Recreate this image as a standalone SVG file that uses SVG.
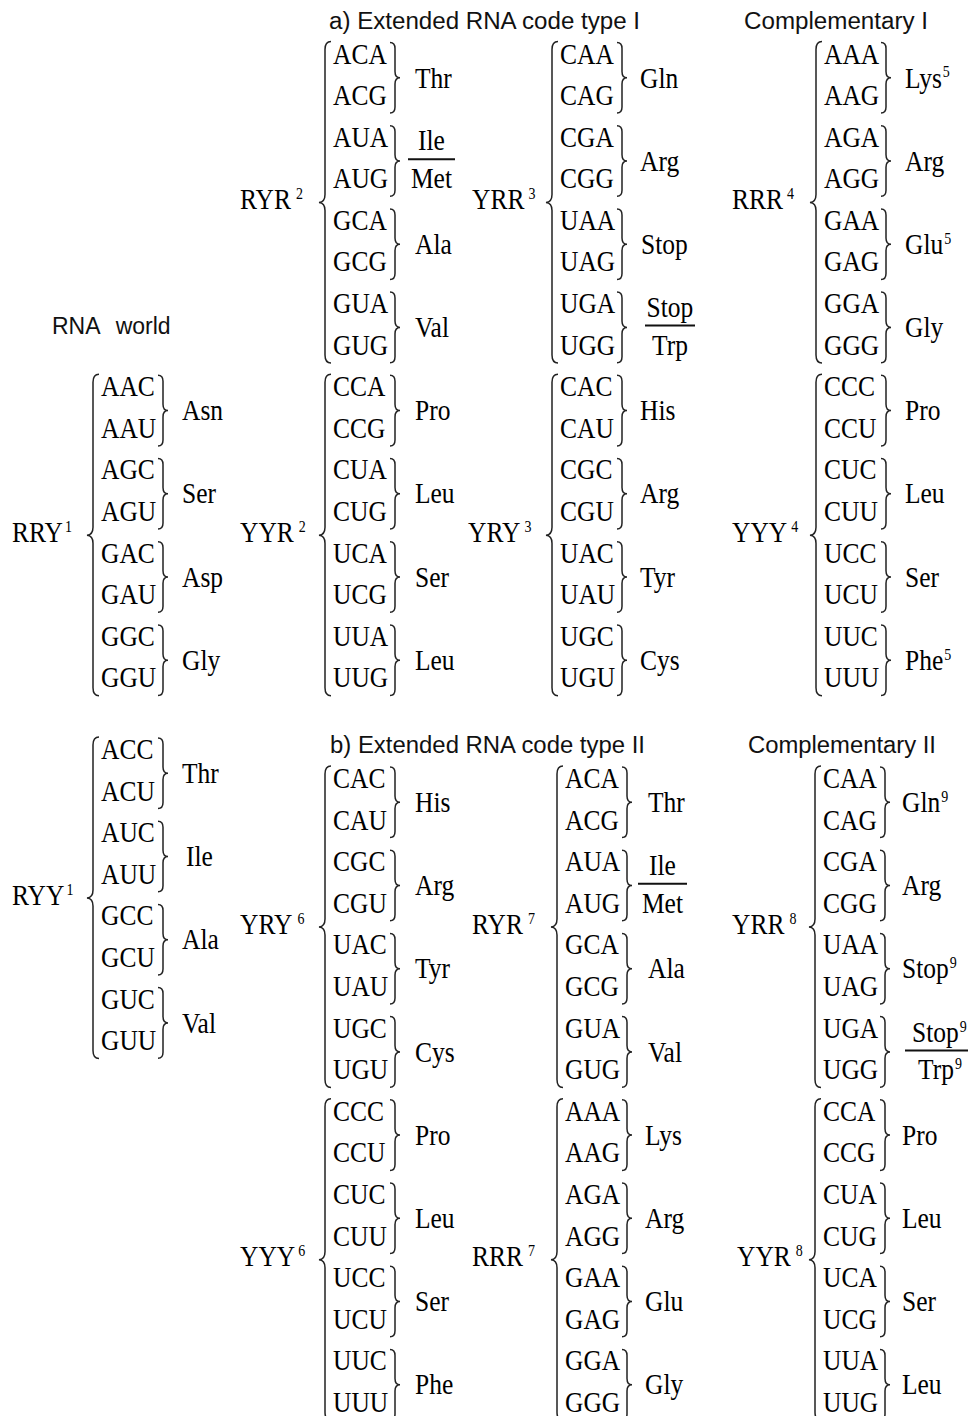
<svg xmlns="http://www.w3.org/2000/svg" xmlns:xlink="http://www.w3.org/1999/xlink" width="968" height="1416" viewBox="0 0 968 1416">
<style>
.s{font-family:"Liberation Serif","Times New Roman",serif;font-size:25.5px;fill:#000}
.h{font-family:"Liberation Sans",Arial,sans-serif;font-size:23px;fill:#111}
.sp{font-size:14px}
.br{fill:none;stroke:#222;stroke-width:1.5}
.fr{stroke:#111;stroke-width:2}
.m{text-anchor:middle}
</style>
<defs>
<path id="big" class="br" d="M6,-22 Q0,-22 0,-14 L0,131 Q0,138.5 -6,139 Q0,139.5 0,147 L0,291.5 Q0,299.5 6,299.5"/>
<path id="pb" class="br" d="M0,-21 Q5,-21 5,-15 L5,8 Q5,14.3 10,14.3 Q5,14.3 5,20.6 L5,43.6 Q5,49.6 0,49.6"/>
</defs>
<rect width="968" height="1416" fill="#fff"/>
<g id="headers">
<text class="h" x="329" y="28.5" textLength="311" lengthAdjust="spacingAndGlyphs">a) Extended RNA code type I</text>
<text class="h" x="744" y="29" textLength="184" lengthAdjust="spacingAndGlyphs">Complementary I</text>
<text class="h" x="52" y="334" word-spacing="10">RNA world</text>
<text class="h" x="330" y="753" textLength="315" lengthAdjust="spacingAndGlyphs">b) Extended RNA code type II</text>
<text class="h" x="748" y="753" textLength="188" lengthAdjust="spacingAndGlyphs">Complementary II</text>
</g>

<g id="RYR2" transform="translate(333,63.5)">
<use href="#big" x="-8"/><use href="#pb" x="57" y="0"/><use href="#pb" x="57" y="83.2"/><use href="#pb" x="57" y="166.4"/><use href="#pb" x="57" y="249.6"/>
<line class="fr" x1="75" y1="95.7" x2="122" y2="95.7"/>
<g transform="scale(1,1.18)">
<text class="s" x="-93" y="123.39">RYR<tspan class="sp" dx="5" dy="-8.5">2</tspan></text>
<text class="s" y="0">ACA</text><text class="s" y="35.25">ACG</text><text class="s" y="70.51">AUA</text><text class="s" y="105.76">AUG</text>
<text class="s" y="141.02">GCA</text><text class="s" y="176.27">GCG</text><text class="s" y="211.53">GUA</text><text class="s" y="246.78">GUG</text>
<text class="s" x="82" y="20.34">Thr</text>
<text class="s m" x="98.5" y="73.47">Ile</text><text class="s m" x="98.5" y="105.76">Met</text>
<text class="s" x="82" y="161.36">Ala</text><text class="s" x="82" y="231.86">Val</text>
</g></g>

<g id="YRR3" transform="translate(560,63.5)">
<use href="#big" x="-8"/><use href="#pb" x="57" y="0"/><use href="#pb" x="57" y="83.2"/><use href="#pb" x="57" y="166.4"/><use href="#pb" x="57" y="249.6"/>
<line class="fr" x1="85" y1="262.1" x2="135" y2="262.1"/>
<g transform="scale(1,1.18)">
<text class="s" x="-88" y="123.39">YRR<tspan class="sp" dx="4" dy="-8.5">3</tspan></text>
<text class="s" y="0">CAA</text><text class="s" y="35.25">CAG</text><text class="s" y="70.51">CGA</text><text class="s" y="105.76">CGG</text>
<text class="s" y="141.02">UAA</text><text class="s" y="176.27">UAG</text><text class="s" y="211.53">UGA</text><text class="s" y="246.78">UGG</text>
<text class="s" x="80" y="20.34">Gln</text><text class="s" x="80" y="90.85">Arg</text><text class="s" x="81" y="161.36">Stop</text>
<text class="s m" x="110" y="215.25">Stop</text><text class="s m" x="110" y="246.78">Trp</text>
</g></g>

<g id="RRR4" transform="translate(824,63.5)">
<use href="#big" x="-8"/><use href="#pb" x="57" y="0"/><use href="#pb" x="57" y="83.2"/><use href="#pb" x="57" y="166.4"/><use href="#pb" x="57" y="249.6"/>
<g transform="scale(1,1.18)">
<text class="s" x="-92" y="123.39">RRR<tspan class="sp" dx="4" dy="-8.5">4</tspan></text>
<text class="s" y="0">AAA</text><text class="s" y="35.25">AAG</text><text class="s" y="70.51">AGA</text><text class="s" y="105.76">AGG</text>
<text class="s" y="141.02">GAA</text><text class="s" y="176.27">GAG</text><text class="s" y="211.53">GGA</text><text class="s" y="246.78">GGG</text>
<text class="s" x="81" y="20.34">Lys<tspan class="sp" dx="1" dy="-8.5">5</tspan></text><text class="s" x="81" y="90.85">Arg</text>
<text class="s" x="81" y="161.36">Glu<tspan class="sp" dx="1" dy="-8.5">5</tspan></text><text class="s" x="81" y="231.86">Gly</text>
</g></g>

<g id="RRY1" transform="translate(101,396.3)">
<use href="#big" x="-8"/><use href="#pb" x="57" y="0"/><use href="#pb" x="57" y="83.2"/><use href="#pb" x="57" y="166.4"/><use href="#pb" x="57" y="249.6"/>
<g transform="scale(1,1.18)">
<text class="s" x="-89" y="123.39">RRY<tspan class="sp" dx="2" dy="-8.5">1</tspan></text>
<text class="s" y="0">AAC</text><text class="s" y="35.25">AAU</text><text class="s" y="70.51">AGC</text><text class="s" y="105.76">AGU</text>
<text class="s" y="141.02">GAC</text><text class="s" y="176.27">GAU</text><text class="s" y="211.53">GGC</text><text class="s" y="246.78">GGU</text>
<text class="s" x="81" y="20.34">Asn</text><text class="s" x="81" y="90.85">Ser</text><text class="s" x="81" y="161.36">Asp</text><text class="s" x="81" y="231.86">Gly</text>
</g></g>

<g id="YYR2" transform="translate(333,396.3)">
<use href="#big" x="-8"/><use href="#pb" x="57" y="0"/><use href="#pb" x="57" y="83.2"/><use href="#pb" x="57" y="166.4"/><use href="#pb" x="57" y="249.6"/>
<g transform="scale(1,1.18)">
<text class="s" x="-93" y="123.39">YYR<tspan class="sp" dx="5" dy="-8.5">2</tspan></text>
<text class="s" y="0">CCA</text><text class="s" y="35.25">CCG</text><text class="s" y="70.51">CUA</text><text class="s" y="105.76">CUG</text>
<text class="s" y="141.02">UCA</text><text class="s" y="176.27">UCG</text><text class="s" y="211.53">UUA</text><text class="s" y="246.78">UUG</text>
<text class="s" x="82" y="20.34">Pro</text><text class="s" x="82" y="90.85">Leu</text><text class="s" x="82" y="161.36">Ser</text><text class="s" x="82" y="231.86">Leu</text>
</g></g>

<g id="YRY3" transform="translate(560,396.3)">
<use href="#big" x="-8"/><use href="#pb" x="57" y="0"/><use href="#pb" x="57" y="83.2"/><use href="#pb" x="57" y="166.4"/><use href="#pb" x="57" y="249.6"/>
<g transform="scale(1,1.18)">
<text class="s" x="-92" y="123.39">YRY<tspan class="sp" dx="4" dy="-8.5">3</tspan></text>
<text class="s" y="0">CAC</text><text class="s" y="35.25">CAU</text><text class="s" y="70.51">CGC</text><text class="s" y="105.76">CGU</text>
<text class="s" y="141.02">UAC</text><text class="s" y="176.27">UAU</text><text class="s" y="211.53">UGC</text><text class="s" y="246.78">UGU</text>
<text class="s" x="80" y="20.34">His</text><text class="s" x="80" y="90.85">Arg</text><text class="s" x="80" y="161.36">Tyr</text><text class="s" x="80" y="231.86">Cys</text>
</g></g>

<g id="YYY4" transform="translate(824,396.3)">
<use href="#big" x="-8"/><use href="#pb" x="57" y="0"/><use href="#pb" x="57" y="83.2"/><use href="#pb" x="57" y="166.4"/><use href="#pb" x="57" y="249.6"/>
<g transform="scale(1,1.18)">
<text class="s" x="-92" y="123.39">YYY<tspan class="sp" dx="4" dy="-8.5">4</tspan></text>
<text class="s" y="0">CCC</text><text class="s" y="35.25">CCU</text><text class="s" y="70.51">CUC</text><text class="s" y="105.76">CUU</text>
<text class="s" y="141.02">UCC</text><text class="s" y="176.27">UCU</text><text class="s" y="211.53">UUC</text><text class="s" y="246.78">UUU</text>
<text class="s" x="81" y="20.34">Pro</text><text class="s" x="81" y="90.85">Leu</text><text class="s" x="81" y="161.36">Ser</text>
<text class="s" x="81" y="231.86">Phe<tspan class="sp" dx="1" dy="-8.5">5</tspan></text>
</g></g>

<g id="RYY1" transform="translate(101,759)">
<use href="#big" x="-8"/><use href="#pb" x="57" y="0"/><use href="#pb" x="57" y="83.2"/><use href="#pb" x="57" y="166.4"/><use href="#pb" x="57" y="249.6"/>
<g transform="scale(1,1.18)">
<text class="s" x="-89" y="123.39">RYY<tspan class="sp" dx="2" dy="-8.5">1</tspan></text>
<text class="s" y="0">ACC</text><text class="s" y="35.25">ACU</text><text class="s" y="70.51">AUC</text><text class="s" y="105.76">AUU</text>
<text class="s" y="141.02">GCC</text><text class="s" y="176.27">GCU</text><text class="s" y="211.53">GUC</text><text class="s" y="246.78">GUU</text>
<text class="s" x="81" y="20.34">Thr</text><text class="s" x="85" y="90.85">Ile</text><text class="s" x="81" y="161.36">Ala</text><text class="s" x="81" y="231.86">Val</text>
</g></g>

<g id="YRY6" transform="translate(333,788)">
<use href="#big" x="-8"/><use href="#pb" x="57" y="0"/><use href="#pb" x="57" y="83.2"/><use href="#pb" x="57" y="166.4"/><use href="#pb" x="57" y="249.6"/>
<g transform="scale(1,1.18)">
<text class="s" x="-93" y="123.39">YRY<tspan class="sp" dx="5" dy="-8.5">6</tspan></text>
<text class="s" y="0">CAC</text><text class="s" y="35.25">CAU</text><text class="s" y="70.51">CGC</text><text class="s" y="105.76">CGU</text>
<text class="s" y="141.02">UAC</text><text class="s" y="176.27">UAU</text><text class="s" y="211.53">UGC</text><text class="s" y="246.78">UGU</text>
<text class="s" x="82" y="20.34">His</text><text class="s" x="82" y="90.85">Arg</text><text class="s" x="82" y="161.36">Tyr</text><text class="s" x="82" y="231.86">Cys</text>
</g></g>

<g id="RYR7" transform="translate(565,788)">
<use href="#big" x="-8"/><use href="#pb" x="57" y="0"/><use href="#pb" x="57" y="83.2"/><use href="#pb" x="57" y="166.4"/><use href="#pb" x="57" y="249.6"/>
<line class="fr" x1="73" y1="95.7" x2="122" y2="95.7"/>
<g transform="scale(1,1.18)">
<text class="s" x="-93" y="123.39">RYR<tspan class="sp" dx="5" dy="-8.5">7</tspan></text>
<text class="s" y="0">ACA</text><text class="s" y="35.25">ACG</text><text class="s" y="70.51">AUA</text><text class="s" y="105.76">AUG</text>
<text class="s" y="141.02">GCA</text><text class="s" y="176.27">GCG</text><text class="s" y="211.53">GUA</text><text class="s" y="246.78">GUG</text>
<text class="s" x="83" y="20.34">Thr</text>
<text class="s m" x="97.5" y="73.47">Ile</text><text class="s m" x="97.5" y="105.76">Met</text>
<text class="s" x="83" y="161.36">Ala</text><text class="s" x="83" y="231.86">Val</text>
</g></g>

<g id="YRR8" transform="translate(823,788)">
<use href="#big" x="-8"/><use href="#pb" x="57" y="0"/><use href="#pb" x="57" y="83.2"/><use href="#pb" x="57" y="166.4"/><use href="#pb" x="57" y="249.6"/>
<line class="fr" x1="82" y1="262.6" x2="145" y2="262.6"/>
<g transform="scale(1,1.18)">
<text class="s" x="-91" y="123.39">YRR<tspan class="sp" dx="5" dy="-8.5">8</tspan></text>
<text class="s" y="0">CAA</text><text class="s" y="35.25">CAG</text><text class="s" y="70.51">CGA</text><text class="s" y="105.76">CGG</text>
<text class="s" y="141.02">UAA</text><text class="s" y="176.27">UAG</text><text class="s" y="211.53">UGA</text><text class="s" y="246.78">UGG</text>
<text class="s" x="79" y="20.34">Gln<tspan class="sp" dx="1" dy="-8.5">9</tspan></text><text class="s" x="79" y="90.85">Arg</text>
<text class="s" x="79" y="161.36">Stop<tspan class="sp" dx="1" dy="-8.5">9</tspan></text>
<text class="s" x="89" y="215.25">Stop<tspan class="sp" dx="1" dy="-8.5">9</tspan></text>
<text class="s" x="95" y="246.78">Trp<tspan class="sp" dx="1" dy="-8.5">9</tspan></text>
</g></g>

<g id="YYY6" transform="translate(333,1120.8)">
<use href="#big" x="-8"/><use href="#pb" x="57" y="0"/><use href="#pb" x="57" y="83.2"/><use href="#pb" x="57" y="166.4"/><use href="#pb" x="57" y="249.6"/>
<g transform="scale(1,1.18)">
<text class="s" x="-93" y="123.39">YYY<tspan class="sp" dx="3" dy="-8.5">6</tspan></text>
<text class="s" y="0">CCC</text><text class="s" y="35.25">CCU</text><text class="s" y="70.51">CUC</text><text class="s" y="105.76">CUU</text>
<text class="s" y="141.02">UCC</text><text class="s" y="176.27">UCU</text><text class="s" y="211.53">UUC</text><text class="s" y="246.78">UUU</text>
<text class="s" x="82" y="20.34">Pro</text><text class="s" x="82" y="90.85">Leu</text><text class="s" x="82" y="161.36">Ser</text><text class="s" x="82" y="231.86">Phe</text>
</g></g>

<g id="RRR7" transform="translate(565,1120.8)">
<use href="#big" x="-8"/><use href="#pb" x="57" y="0"/><use href="#pb" x="57" y="83.2"/><use href="#pb" x="57" y="166.4"/><use href="#pb" x="57" y="249.6"/>
<g transform="scale(1,1.18)">
<text class="s" x="-93" y="123.39">RRR<tspan class="sp" dx="5" dy="-8.5">7</tspan></text>
<text class="s" y="0">AAA</text><text class="s" y="35.25">AAG</text><text class="s" y="70.51">AGA</text><text class="s" y="105.76">AGG</text>
<text class="s" y="141.02">GAA</text><text class="s" y="176.27">GAG</text><text class="s" y="211.53">GGA</text><text class="s" y="246.78">GGG</text>
<text class="s" x="80" y="20.34">Lys</text><text class="s" x="80" y="90.85">Arg</text><text class="s" x="80" y="161.36">Glu</text><text class="s" x="80" y="231.86">Gly</text>
</g></g>

<g id="YYR8" transform="translate(823,1120.8)">
<use href="#big" x="-8"/><use href="#pb" x="57" y="0"/><use href="#pb" x="57" y="83.2"/><use href="#pb" x="57" y="166.4"/><use href="#pb" x="57" y="249.6"/>
<g transform="scale(1,1.18)">
<text class="s" x="-86" y="123.39">YYR<tspan class="sp" dx="5" dy="-8.5">8</tspan></text>
<text class="s" y="0">CCA</text><text class="s" y="35.25">CCG</text><text class="s" y="70.51">CUA</text><text class="s" y="105.76">CUG</text>
<text class="s" y="141.02">UCA</text><text class="s" y="176.27">UCG</text><text class="s" y="211.53">UUA</text><text class="s" y="246.78">UUG</text>
<text class="s" x="79" y="20.34">Pro</text><text class="s" x="79" y="90.85">Leu</text><text class="s" x="79" y="161.36">Ser</text><text class="s" x="79" y="231.86">Leu</text>
</g></g>
</svg>
